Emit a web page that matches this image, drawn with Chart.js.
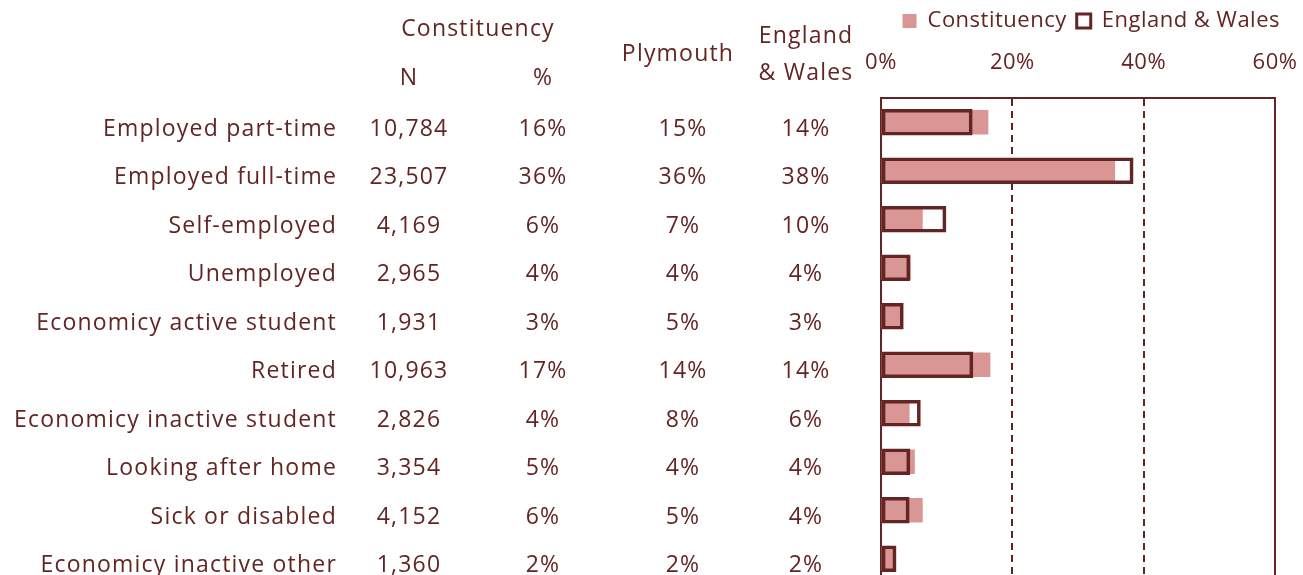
<!DOCTYPE html>
<html>
<head>
<meta charset="utf-8">
<script src="https://cdn.jsdelivr.net/npm/chart.js@4/dist/chart.umd.min.js"></script>
<style>
  html, body { margin: 0; padding: 0; background: #fff; overflow: hidden; }
  #wrap { position: relative; width: 1303px; height: 600px; }
</style>
</head>
<body>
<div id="wrap"><canvas id="statusChart"></canvas></div>
<script>
const categories = ["Employed part-time", "Employed full-time", "Self-employed", "Unemployed",
    "Economicy active student", "Retired", "Economicy inactive student", "Looking after home",
    "Sick or disabled", "Economicy inactive other"];
const constituencyN = [10784, 23507, 4169, 2965, 1931, 10963, 2826, 3354, 4152, 1360];
const constituencyPct = [16, 36, 6, 4, 3, 17, 4, 5, 6, 2];
const plymouthPct = [15, 36, 7, 4, 5, 14, 8, 4, 5, 2];
const ewPct = [14, 38, 10, 4, 3, 14, 6, 4, 4, 2];
// bar lengths (percent)
const constituencyBars = [16.3, 35.6, 6.3, 4.5, 2.9, 16.6, 4.3, 5.1, 6.3, 2.1];
const ewBars = [13.9, 38.4, 9.9, 4.4, 3.4, 14.0, 6.0, 4.4, 4.3, 2.3];
const xTicks = [0, 20, 40, 60];

const dark = "#632523";
const pink = "#d99694";
const font = "'Open Sans'";
const fontSize = 22;

// a little letter spacing so Open Sans runs as wide as the original's Calibri
const spacingPlugin = {
    id: "spacingPlugin",
    beforeUpdate(chart) { chart.ctx.letterSpacing = "0.5px"; },
    beforeDraw(chart) { chart.ctx.letterSpacing = "0.5px"; }
};

const tablePlugin = {
    id: "tablePlugin",
    afterDraw(chart) {
        const ctx = chart.ctx;
        const y = chart.scales.y;
        ctx.save();
        ctx.fillStyle = dark;
        ctx.font = "23px " + font;
        ctx.letterSpacing = "1.2px";
        ctx.textBaseline = "middle";
        // headers
        ctx.textAlign = "center";
        ctx.fillText("Constituency", 478, 29);
        ctx.fillText("N", 409, 78);
        ctx.fillText("%", 543, 78);
        ctx.fillText("Plymouth", 678, 54);
        ctx.fillText("England", 806, 36);
        ctx.fillText("& Wales", 806, 73);
        categories.forEach((cat, i) => {
            const py = y.getPixelForValue(i) + 7;
            ctx.textAlign = "right";
            ctx.fillText(cat, 337, py);
            ctx.textAlign = "center";
            ctx.fillText(constituencyN[i].toLocaleString("en-GB"), 409, py);
            ctx.fillText(constituencyPct[i] + "%", 543, py);
            ctx.fillText(plymouthPct[i] + "%", 683, py);
            ctx.fillText(ewPct[i] + "%", 806, py);
        });
        ctx.restore();
    }
};

const ctx = document.getElementById("statusChart").getContext("2d");
const statusChart = new Chart(ctx, {
    type: "bar",
    data: {
        labels: categories,
        datasets: [{
            label: "Constituency",
            data: constituencyBars,
            backgroundColor: pink,
            borderWidth: 0,
            barThickness: 24,
            grouped: false,
            order: 2
        }, {
            label: "England & Wales",
            data: ewBars,
            backgroundColor: "rgba(0,0,0,0)",
            borderColor: dark,
            borderWidth: 3,
            borderSkipped: false,
            barThickness: 26,
            grouped: false,
            order: 1
        }]
    },
    options: {
        indexAxis: "y",
        responsive: true,
        maintainAspectRatio: false,
        animation: false,
        layout: { padding: { left: 0, right: 13, top: 0, bottom: 17 } },
        plugins: {
            tooltip: { enabled: false },
            legend: {
                position: "top",
                align: "end",
                labels: {
                    color: dark,
                    font: { family: font, size: fontSize },
                    boxWidth: 14,
                    boxHeight: 14,
                    padding: 10,
                    sort: (a, b) => a.datasetIndex - b.datasetIndex,
                    generateLabels: (chart) => chart.data.datasets.map((ds, i) => ({
                        text: ds.label,
                        fillStyle: i === 0 ? pink : "#fff",
                        strokeStyle: i === 0 ? pink : dark,
                        lineWidth: i === 0 ? 0 : 3,
                        fontColor: dark,
                        datasetIndex: i
                    }))
                }
            }
        },
        scales: {
            x: {
                position: "top",
                min: 0,
                max: 60,
                afterBuildTicks: (scale) => { scale.ticks = xTicks.map(v => ({ value: v })); },
                afterFit: (scale) => {
                    scale.height = 56;
                    scale.paddingLeft = 0;
                    scale.paddingRight = 0;
                },
                ticks: {
                    color: dark,
                    font: { family: font, size: fontSize },
                    padding: 22,
                    maxRotation: 0,
                    callback: (v) => v + "%"
                },
                grid: {
                    drawTicks: false,
                    color: dark,
                    lineWidth: 2
                },
                border: {
                    display: true,
                    color: dark,
                    width: 2,
                    dash: (c) => (c.tick && c.tick.value > 0 && c.tick.value < 60) ? [7, 5] : []
                }
            },
            y: {
                // the table sits in the space left of the plot
                afterFit: (scale) => { scale.width = 881; },
                ticks: { display: false },
                grid: { display: false },
                border: { display: true, color: dark, width: 2 }
            },
            yRight: {
                position: "right",
                afterFit: (scale) => { scale.width = 15; },
                ticks: { display: false },
                grid: { display: false },
                border: { display: false }
            }
        }
    },
    plugins: [spacingPlugin, tablePlugin]
});
</script>
</body>
</html>
